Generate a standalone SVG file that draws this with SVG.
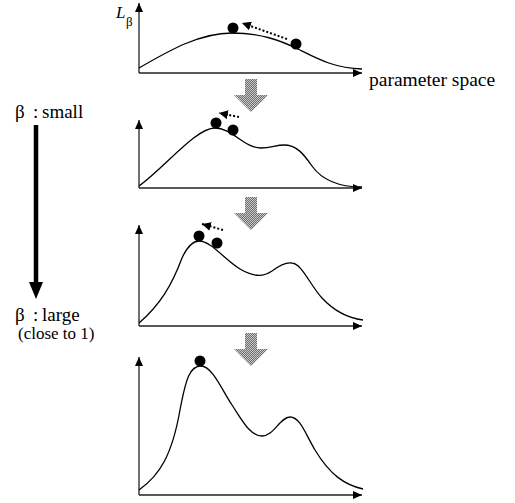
<svg xmlns="http://www.w3.org/2000/svg" width="515" height="503" viewBox="0 0 515 503">
<style>
.axis{fill:none;stroke:#222;stroke-width:1.3}
.curve{fill:none;stroke:#000;stroke-width:1.3}
.dot{fill:#000}
.dotted{fill:none;stroke:#000;stroke-width:2;stroke-dasharray:2,2}
.lbl{font-family:"Liberation Serif","Times New Roman",serif;font-size:19px;fill:#000}
.garrow{fill:url(#checker)}
</style>
<defs>
<pattern id="checker" width="2" height="2" patternUnits="userSpaceOnUse">
<rect width="2" height="2" fill="#6e6e6e"/>
<rect width="1" height="1" fill="#c8c8c8"/>
<rect x="1" y="1" width="1" height="1" fill="#c8c8c8"/>
</pattern>
<marker id="ax" markerUnits="userSpaceOnUse" markerWidth="10" markerHeight="8" refX="9" refY="4" orient="auto">
<path d="M0,0 L9,4 L0,8 z" fill="#000"/>
</marker>
<marker id="dh" markerUnits="userSpaceOnUse" markerWidth="10" markerHeight="9" refX="9" refY="4.5" orient="auto">
<path d="M0,0 L9,4.5 L0,9 z" fill="#000"/>
</marker>
</defs>

<g id="labels">
<text class="lbl" x="116" y="18" style="font-style:italic;font-size:17px">L</text>
<text class="lbl" x="126" y="26" style="font-size:13px">β</text>
<text class="lbl" x="369" y="86" style="font-size:19.5px">parameter space</text>
<text class="lbl" y="118"><tspan x="15">β</tspan><tspan x="33">:</tspan><tspan x="42">small</tspan></text>
<text class="lbl" y="321"><tspan x="15">β</tspan><tspan x="33">:</tspan><tspan x="42">large</tspan></text>
<text class="lbl" x="18" y="339" style="font-size:17px">(close to 1)</text>
</g>

<g id="beta-arrow">
<line x1="36" y1="125" x2="36" y2="284" stroke="#000" stroke-width="4.5"/>
<polygon points="29,282 43,282 36,299" fill="#000"/>
</g>

<g id="panel1">
<line class="axis" x1="139" y1="73" x2="139" y2="3" marker-end="url(#ax)"/>
<line class="axis" x1="139" y1="73" x2="362" y2="73" marker-end="url(#ax)"/>
<path class="curve" d="M139,68 C170,50 200,33 232,33 C260,33 280,40 300,50 C320,60 335,68 362,69"/>
<circle class="dot" cx="233" cy="28" r="5.5"/>
<circle class="dot" cx="296" cy="44" r="5.5"/>
</g>

<g id="panel2">
<line class="axis" x1="139" y1="188" x2="139" y2="120" marker-end="url(#ax)"/>
<line class="axis" x1="139" y1="188" x2="362" y2="188" marker-end="url(#ax)"/>
<path class="curve" d="M139,186 C166,166 196,128 215,128 C232,128 244,148 261,148 C271,148 276,145 284,145 C296,145 303,153 312,166 C322,180 338,187 362,187"/>
<circle class="dot" cx="216" cy="123" r="5.5"/>
<circle class="dot" cx="233" cy="130" r="5.5"/>
</g>

<g id="panel3">
<line class="axis" x1="139" y1="326" x2="139" y2="225" marker-end="url(#ax)"/>
<line class="axis" x1="139" y1="326" x2="362" y2="326" marker-end="url(#ax)"/>
<path class="curve" d="M139,323 C160,305 172,285 182,258 C188,245 193,241 199,241 C211,241 225,260 240,269 C252,276 262,278 272,271 C280,265 286,262 292,263 C302,264 310,285 322,298 C335,312 348,318 363,320"/>
<circle class="dot" cx="199" cy="236" r="5.5"/>
<circle class="dot" cx="217" cy="243" r="5.5"/>
</g>

<g id="panel4">
<line class="axis" x1="139" y1="495" x2="139" y2="357" marker-end="url(#ax)"/>
<line class="axis" x1="139" y1="495" x2="362" y2="495" marker-end="url(#ax)"/>
<path class="curve" d="M139,490 C160,475 172,455 180,410 C186,378 190,366 201,366 C212,366 222,390 232,405 C242,420 250,436 262,436 C274,436 280,417 290,417 C300,417 305,433 315,450 C330,475 345,485 363,489"/>
<circle class="dot" cx="200" cy="361" r="5.5"/>
</g>

<g id="connectors">
<line class="dotted" x1="287" y1="39" x2="242" y2="23" marker-end="url(#dh)"/>
<line class="dotted" x1="239" y1="117" x2="219" y2="113" marker-end="url(#dh)"/>
<line class="dotted" x1="223" y1="230" x2="202" y2="224" marker-end="url(#dh)"/>
<polygon class="garrow" points="245,79 257,79 257,95 268,95 251,112 234,95 245,95"/>
<polygon class="garrow" points="245,197 257,197 257,213 268,213 251,230 234,213 245,213"/>
<polygon class="garrow" points="245,333 257,333 257,349 268,349 251,366 234,349 245,349"/>
</g>
</svg>
